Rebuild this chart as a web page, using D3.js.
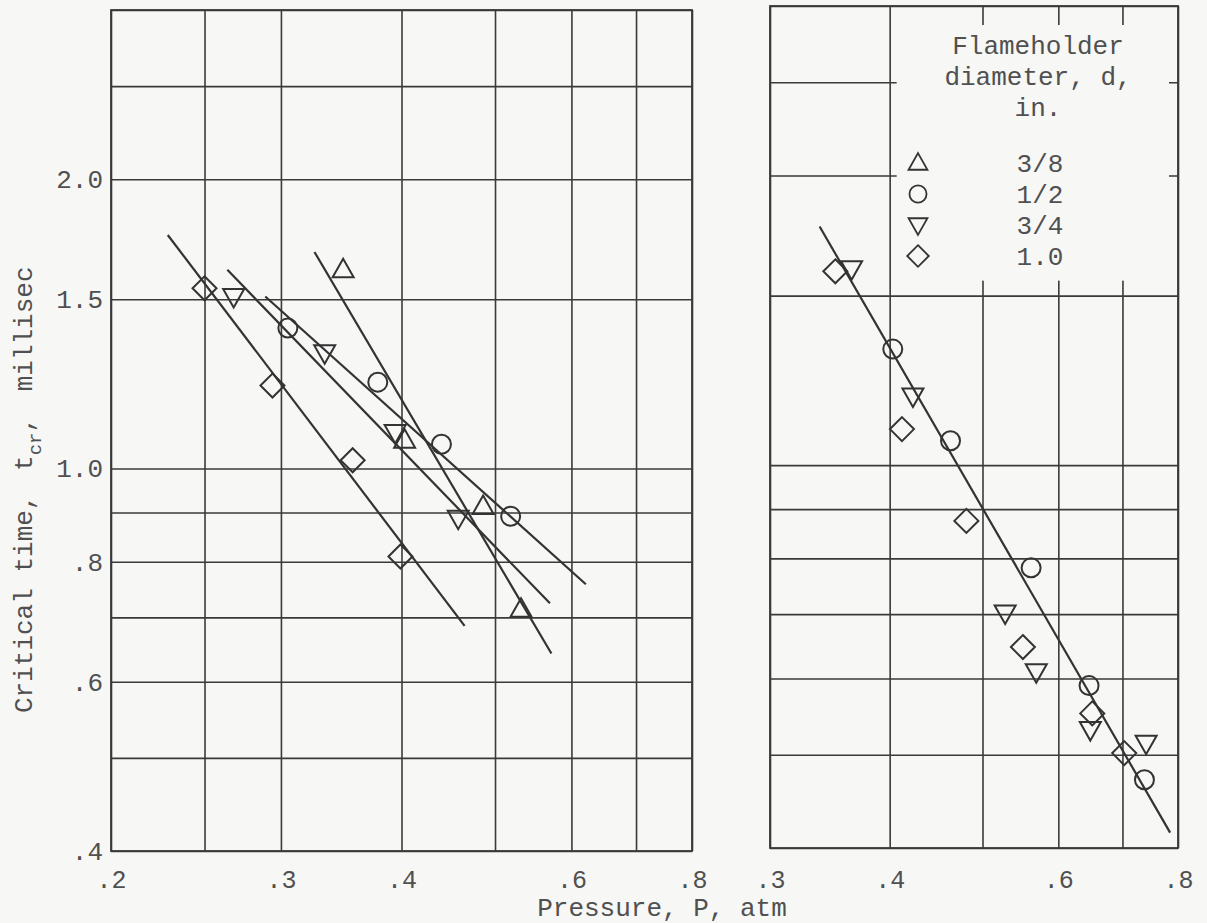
<!DOCTYPE html>
<html>
<head>
<meta charset="utf-8">
<script src="https://cdn.jsdelivr.net/npm/d3@7"></script>
<style>
  html, body { margin: 0; padding: 0; background: #f7f7f6; }
  svg { display: block; }
  text { font-family: "Liberation Mono", "DejaVu Sans Mono", monospace; fill: #505050; }
</style>
</head>
<body>
<svg id="chart" width="1207" height="923"></svg>
<script>
// ---------------- data (pressure atm, critical time millisec) ----------------
const yGrid = [0.4, 0.5, 0.6, 0.7, 0.8, 0.9, 1.0, 1.5, 2.0, 2.5, 3.0];
const yTickValues = [0.4, 0.6, 0.8, 1.0, 1.5, 2.0];
const yTickLabels = [".4", ".6", ".8", "1.0", "1.5", "2.0"];

const leftXGrid = [0.2, 0.25, 0.3, 0.4, 0.5, 0.6, 0.7, 0.8];
const leftXTickValues = [0.2, 0.3, 0.4, 0.6, 0.8];
const leftXTickLabels = [".2", ".3", ".4", ".6", ".8"];
const rightXGrid = [0.3, 0.4, 0.5, 0.6, 0.7, 0.8];
const rightXTickValues = [0.3, 0.4, 0.6, 0.8];
const rightXTickLabels = [".3", ".4", ".6", ".8"];

// Left panel
const leftTri    = [[0.348, 1.61], [0.403, 1.07], [0.486, 0.913], [0.532, 0.714]];
const leftCirc   = [[0.305, 1.40], [0.378, 1.23], [0.440, 1.06], [0.519, 0.892]];
const leftInvTri = [[0.268, 1.51], [0.333, 1.32], [0.394, 1.09], [0.458, 0.888]];
const leftDiam   = [[0.250, 1.54], [0.294, 1.22], [0.356, 1.02], [0.399, 0.810]];
const leftTriLine    = [[0.325, 1.68], [0.572, 0.642]];
const leftCircLine   = [[0.289, 1.51], [0.621, 0.758]];
const leftInvTriLine = [[0.264, 1.61], [0.570, 0.724]];
const leftDiamLine   = [[0.229, 1.75], [0.465, 0.686]];

// Right panel
const rightDiam   = [[0.351, 1.59], [0.412, 1.09], [0.481, 0.875], [0.551, 0.647], [0.651, 0.552], [0.703, 0.502]];
const rightInvTri = [[0.365, 1.60], [0.423, 1.18], [0.528, 0.702], [0.569, 0.610], [0.648, 0.531], [0.741, 0.514]];
const rightCirc   = [[0.403, 1.32], [0.463, 1.06], [0.562, 0.782], [0.646, 0.590], [0.738, 0.471]];
const rightLine   = [[0.338, 1.77], [0.785, 0.415]];

// Legend
const legendTitle = ["Flameholder", "diameter, d,", "in."];
const legendLabels = ["3/8", "1/2", "3/4", "1.0"];
const legendShapes = ["tri", "circ", "invtri", "diam"];

// ---------------- drawing ----------------
const BG = "#f7f7f6";
const INK = "#3a3a3a";
const FONT = '"Liberation Mono", "DejaVu Sans Mono", monospace';
const svg = d3.select("#chart");
svg.append("rect").attr("width", 1207).attr("height", 923).attr("fill", BG);

function shapePath(kind, s) {
  s = s || 1;
  if (kind === "tri") return `M0,${-11*s}L${10.5*s},${7.5*s}L${-10.5*s},${7.5*s}Z`;
  if (kind === "invtri") return `M0,${11*s}L${10.5*s},${-7.5*s}L${-10.5*s},${-7.5*s}Z`;
  if (kind === "diam") return `M0,${-12*s}L${12*s},0L0,${12*s}L${-12*s},0Z`;
  const r = 9.5 * s;
  return `M${r},0A${r},${r} 0 1,1 ${-r},0A${r},${r} 0 1,1 ${r},0Z`;
}

function panel(cfg) {
  const x = d3.scaleLog().domain(cfg.xDomain).range([cfg.left, cfg.right]);
  const y = d3.scaleLog().domain([0.4, 3.0]).range([cfg.bottom, cfg.top]);
  const h = cfg.bottom - cfg.top, w = cfg.right - cfg.left;
  const g = svg.append("g");

  // vertical grid
  const gx = g.append("g").attr("transform", `translate(0,${cfg.bottom})`)
    .call(d3.axisBottom(x).tickValues(cfg.xGrid).tickSize(-h).tickFormat(""));
  gx.select(".domain").remove();
  gx.selectAll("line").attr("stroke", INK).attr("stroke-width", 1.6);
  // horizontal grid
  const gy = g.append("g").attr("transform", `translate(${cfg.left},0)`)
    .call(d3.axisLeft(y).tickValues(yGrid).tickSize(-w).tickFormat(""));
  gy.select(".domain").remove();
  gy.selectAll("line").attr("stroke", INK).attr("stroke-width", 1.6);

  // legend area blanking
  if (cfg.legend) {
    const lx0 = x(0.4) + 7, lx1 = cfg.right - 9;
    const ly0 = cfg.top + 19, ly1 = y(1.5) - 15;
    g.append("rect").attr("x", lx0).attr("y", ly0).attr("width", lx1 - lx0).attr("height", ly1 - ly0).attr("fill", BG);
  }

  // frame
  g.append("rect").attr("x", cfg.left).attr("y", cfg.top).attr("width", w).attr("height", h)
    .attr("fill", "none").attr("stroke", INK).attr("stroke-width", 1.8);

  // x tick labels (baseline near y = 888)
  const fs = 25;
  const pad = 888 - cfg.bottom - 0.71 * fs;
  const ax = g.append("g").attr("transform", `translate(0,${cfg.bottom})`)
    .call(d3.axisBottom(x).tickValues(cfg.xTickValues).tickSize(0).tickPadding(pad)
      .tickFormat((d, i) => cfg.xTickLabels[i]));
  ax.select(".domain").remove();
  ax.selectAll("text").attr("font-size", fs).attr("fill", "#505050").attr("font-family", FONT);

  if (cfg.yLabels) {
    const ay = g.append("g").attr("transform", `translate(${cfg.left},0)`)
      .call(d3.axisLeft(y).tickValues(yTickValues).tickSize(0).tickPadding(8)
        .tickFormat((d, i) => yTickLabels[i]));
    ay.select(".domain").remove();
    ay.selectAll("text").attr("font-size", 26).attr("fill", "#505050").attr("font-family", FONT);
  }

  const line = d3.line().x(d => x(d[0])).y(d => y(d[1]));
  cfg.lines.forEach(l => {
    g.append("path").attr("d", line(l)).attr("fill", "none").attr("stroke", "#333").attr("stroke-width", 2.2);
  });
  cfg.series.forEach(s => {
    g.selectAll(null).data(s.data).enter().append("path")
      .attr("transform", d => `translate(${x(d[0])},${y(d[1])})`)
      .attr("d", shapePath(s.kind))
      .attr("fill", "none").attr("stroke", "#333").attr("stroke-width", 2);
  });
  return { x, y };
}

panel({
  xDomain: [0.2, 0.8], left: 111, right: 692, top: 10, bottom: 851,
  xGrid: leftXGrid, xTickValues: leftXTickValues, xTickLabels: leftXTickLabels,
  yLabels: true,
  lines: [leftTriLine, leftCircLine, leftInvTriLine, leftDiamLine],
  series: [
    { kind: "tri", data: leftTri },
    { kind: "circ", data: leftCirc },
    { kind: "invtri", data: leftInvTri },
    { kind: "diam", data: leftDiam }
  ]
});

panel({
  xDomain: [0.3, 0.8], left: 770, right: 1178, top: 6, bottom: 848,
  xGrid: rightXGrid, xTickValues: rightXTickValues, xTickLabels: rightXTickLabels,
  yLabels: false, legend: true,
  lines: [rightLine],
  series: [
    { kind: "circ", data: rightCirc },
    { kind: "invtri", data: rightInvTri },
    { kind: "diam", data: rightDiam }
  ]
});

// legend
const lg = svg.append("g");
legendTitle.forEach((t, i) => {
  lg.append("text").attr("x", 1038).attr("y", 54 + i * 31).attr("text-anchor", "middle")
    .attr("font-size", 26).text(t);
});
legendLabels.forEach((t, i) => {
  const yy = 163 + i * 31;
  lg.append("path").attr("transform", `translate(918,${yy})`).attr("d", shapePath(legendShapes[i], 0.9))
    .attr("fill", "none").attr("stroke", "#333").attr("stroke-width", 1.8);
  lg.append("text").attr("x", 1040).attr("y", yy + 9).attr("text-anchor", "middle")
    .attr("font-size", 26).text(t);
});

// axis titles
const yt = svg.append("text").attr("transform", "translate(32,713) rotate(-90)")
  .attr("font-size", 26).attr("text-anchor", "start");
yt.append("tspan").text("Critical time,");
yt.append("tspan").attr("dx", 8).text(" t");
yt.append("tspan").attr("font-size", 19).attr("dy", 9).text("cr");
yt.append("tspan").attr("dy", -9).text(",");
yt.append("tspan").attr("dx", 10).text(" millisec");

svg.append("text").attr("x", 662).attr("y", 916).attr("text-anchor", "middle")
  .attr("font-size", 26).text("Pressure, P, atm");
</script>
</body>
</html>
